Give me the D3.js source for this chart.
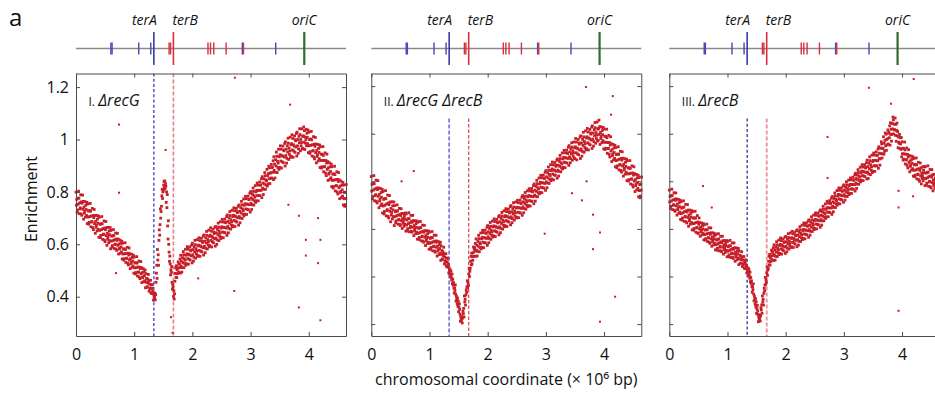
<!DOCTYPE html>
<html><head><meta charset="utf-8">
<script src="https://cdn.jsdelivr.net/npm/d3@7"></script>
<style>
body{margin:0;background:#fff;}
svg{display:block;font-family:"Open Sans",sans-serif;}
</style>
</head><body>
<svg id="chart" width="935" height="396"></svg>
<script>
// ---------------- DATA ----------------
const genomeLengthMb = 4.64;
// chromosomal coordinate of each probe (x 10^6 bp), 6.25 kb spacing
const coordMb = d3.range(744).map(i => +(i * 0.00625).toFixed(5));
// enrichment, in thousandths, one value per probe
const enrichRecG = [
799,749,772,722, 731,776,753,803, 776,717,758,735, 739,789,716,762,
711,757,788,734, 764,696,742,719, 726,763,704,749, 733,710,760,679,
754,704,727,677, 684,729,706,756, 726,667,708,685, 687,737,664,710,
656,702,733,679, 710,642,688,665, 673,710,651,696, 681,658,708,627,
703,653,676,626, 634,679,656,706, 678,619,660,637, 639,689,616,662,
610,656,687,633, 664,596,642,619, 628,665,606,651, 637,614,664,583,
653,612,631,589, 595,633,614,656, 633,584,618,599, 601,643,582,620,
577,615,642,596, 620,563,601,582, 585,616,566,604, 590,571,612,544,
604,563,582,540, 545,583,564,606, 580,531,565,546, 547,589,528,566,
521,559,586,540, 564,507,545,526, 531,562,512,550, 536,517,558,490,
551,510,529,487, 492,530,511,553, 528,479,513,494, 494,536,475,513,
469,507,534,488, 511,454,492,473, 476,507,457,495, 480,461,502,434,
488,455,470,437, 437,467,452,485, 460,421,448,433, 430,463,415,445,
412,432,446,422, 417,387,407,397, 398,414,388,408, 455,490,520,470,
580,540,560,520, 615,655,635,675, 735,700,725,745, 785,810,775,800,
806,826,840,816, 842,812,832,822, 760,800,740,790, 670,620,690,600,
570,535,555,525, 483,503,493,515, 455,429,447,437, 401,423,391,411,
459,489,510,474, 518,473,503,488, 509,533,494,524, 526,511,544,490,
558,517,536,494, 511,549,530,572, 560,511,545,526, 539,581,520,558,
526,564,591,545, 581,524,562,543, 559,590,540,578, 575,556,597,529,
604,560,580,536, 551,591,571,615, 599,547,583,563, 574,618,554,594,
557,597,625,577, 614,554,594,574, 591,623,571,611, 607,587,631,559,
636,592,612,568, 585,625,605,649, 634,582,618,598, 610,654,590,630,
595,635,663,615, 650,590,630,610, 626,658,606,646, 641,621,665,593,
668,624,644,600, 617,657,637,681, 666,614,650,630, 642,686,622,662,
627,667,695,647, 685,625,665,645, 664,696,644,684, 682,662,706,634,
712,668,688,644, 661,701,681,725, 710,658,694,674, 686,730,666,706,
671,711,739,691, 728,668,708,688, 705,737,685,725, 721,701,745,673,
750,706,726,682, 700,740,720,764, 751,699,735,715, 729,773,709,749,
715,755,783,735, 774,714,754,734, 752,784,732,772, 771,751,795,723,
801,757,777,733, 751,791,771,815, 802,750,786,766, 780,824,760,800,
766,806,834,786, 826,766,806,786, 806,838,786,826, 826,806,850,778,
858,814,834,790, 810,850,830,874, 862,810,846,826, 842,886,822,862,
830,870,898,850, 892,832,872,852, 873,905,853,893, 895,875,919,847,
934,882,906,853, 875,923,899,952, 936,874,917,893, 910,963,886,934,
894,942,976,918, 963,891,939,915, 936,975,912,960, 957,933,985,899,
991,939,963,910, 928,976,952,1005, 986,924,967,943, 956,1009,932,980,
936,984,1018,960, 1004,932,980,956, 975,1014,951,999, 995,971,1023,937,
1028,976,1000,947, 964,1012,988,1041, 1019,957,1000,976, 988,1041,964,1012,
966,1014,1048,990, 1034,962,1010,986, 1000,1039,976,1024, 1008,984,1036,950,
1028,976,1000,947, 954,1002,978,1031, 999,937,980,956, 958,1011,934,982,
926,974,1008,950, 983,911,959,935, 942,981,918,966, 951,927,979,893,
972,920,944,891, 896,944,920,973, 939,877,920,896, 896,949,872,920,
862,910,944,886, 916,844,892,868, 872,911,848,896, 878,854,906,820,
896,844,868,815, 821,869,845,898, 866,804,847,823, 824,877,800,848,
792,840,874,816, 846,774,822,798, 802,841,778,826, 808,784,836,750,
826,774,798,745, 751,799,775,828
];
const enrichRecGRecB = [
820,759,787,726, 736,791,763,824, 790,718,768,740, 744,805,716,772,
709,765,803,737, 772,689,745,717, 725,770,698,753, 733,705,766,667,
757,696,724,663, 673,728,700,761, 727,655,705,677, 681,742,653,709,
646,702,740,674, 713,630,686,658, 669,714,642,697, 680,652,713,614,
698,651,672,626, 634,676,655,701, 675,620,658,637, 640,686,619,661,
614,656,685,635, 665,602,644,623, 632,665,611,653, 641,620,667,591,
663,616,637,591, 601,643,622,668, 643,588,626,605, 611,657,590,632,
586,628,657,607, 635,572,614,593, 601,634,580,622, 607,586,633,557,
628,581,602,556, 564,606,585,631, 605,550,588,567, 570,616,549,591,
544,586,615,565, 593,530,572,551, 559,592,538,580, 565,544,591,515,
586,539,560,514, 522,564,543,589, 563,508,546,525, 528,574,507,549,
502,544,573,523, 549,486,528,507, 513,546,492,534, 518,497,544,468,
529,493,509,474, 472,504,488,523, 495,453,482,466, 461,496,445,477,
440,462,477,451, 448,415,437,426, 411,428,400,422, 396,385,410,370,
389,364,375,351, 330,352,341,365, 326,297,317,306, 286,310,275,297,
252,272,286,262, 242,212,232,222, 215,231,205,225, 254,244,266,230,
318,293,304,280, 322,344,333,357, 382,353,373,362, 411,435,400,422,
434,464,485,449, 498,453,483,468, 500,524,485,515, 521,506,539,485,
558,511,532,486, 506,548,527,573, 559,504,542,521, 537,583,516,558,
523,565,594,544, 584,521,563,542, 562,595,541,583, 581,560,607,531,
614,567,588,542, 560,602,581,627, 611,556,594,573, 587,633,566,608,
571,613,642,592, 631,568,610,589, 607,640,586,628, 625,604,651,575,
656,609,630,584, 602,644,623,669, 654,599,637,616, 630,676,609,651,
614,656,685,635, 673,610,652,631, 650,683,629,671, 667,646,693,617,
698,651,672,626, 643,685,664,710, 692,637,675,654, 667,713,646,688,
649,691,720,670, 710,647,689,668, 688,721,667,709, 707,686,733,657,
740,693,714,668, 686,728,707,753, 738,683,721,700, 714,760,693,735,
698,740,769,719, 759,696,738,717, 737,770,716,758, 756,735,782,706,
789,742,763,717, 737,779,758,804, 790,735,773,752, 768,814,747,789,
754,796,825,775, 815,752,794,773, 793,826,772,814, 812,791,838,762,
845,798,819,773, 793,835,814,860, 846,791,829,808, 824,870,803,845,
810,852,881,831, 869,806,848,827, 846,879,825,867, 863,842,889,813,
894,847,868,822, 842,884,863,909, 895,840,878,857, 873,919,852,894,
859,901,930,880, 920,857,899,878, 898,931,877,919, 917,896,943,867,
950,903,924,878, 895,937,916,962, 944,889,927,906, 919,965,898,940,
895,945,980,920, 965,890,940,915, 936,976,911,961, 956,931,986,896,
991,936,961,906, 926,976,951,1006, 987,922,967,942, 957,1012,932,982,
937,987,1022,962, 1007,932,982,957, 978,1018,953,1003, 998,973,1028,938,
1033,978,1003,948, 967,1017,992,1047, 1025,960,1005,980, 994,1049,969,1019,
972,1022,1057,997, 1030,955,1005,980, 988,1028,963,1013, 996,971,1026,936,
1019,964,989,934, 939,989,964,1019, 983,918,963,938, 938,993,913,963,
902,952,987,927, 958,883,933,908, 915,955,890,940, 921,896,951,861,
942,887,912,857, 865,915,890,945, 913,848,893,868, 871,926,846,896,
839,889,924,864, 897,822,872,847, 855,895,830,880, 863,838,893,803,
886,831,856,801, 807,857,832,887, 854,789,834,809, 810,865,785,835,
776,826,861,801, 832,757,807,782, 789,829,764,814, 795,770,825,735,
816,761,786,731, 738,788,763,818
];
const enrichRecB = [
763,713,736,686, 695,740,717,767, 740,681,722,699, 702,752,679,725,
674,720,751,697, 726,658,704,681, 687,724,665,710, 694,671,721,640,
714,664,687,637, 646,691,668,718, 691,632,673,650, 653,703,630,676,
625,671,702,648, 679,611,657,634, 642,679,620,665, 650,627,677,596,
672,622,645,595, 602,647,624,674, 645,586,627,604, 606,656,583,629,
581,619,646,600, 626,569,607,588, 594,625,575,613, 600,581,622,554,
617,576,595,553, 559,597,578,620, 596,547,581,562, 563,605,544,582,
539,577,604,558, 584,527,565,546, 552,583,533,571, 558,539,580,512,
575,534,553,511, 519,557,538,580, 557,508,542,523, 527,569,508,546,
504,542,569,523, 551,494,532,513, 520,551,501,539, 529,510,551,483,
547,506,525,483, 491,529,510,552, 529,480,514,495, 499,541,480,518,
476,514,541,495, 521,464,502,483, 489,520,470,508, 496,477,518,450,
507,474,489,456, 456,486,471,504, 481,442,469,454, 451,484,436,466,
433,455,470,444, 448,415,437,426, 418,435,407,429, 404,393,418,378,
396,371,382,358, 334,356,345,369, 326,297,317,306, 283,307,272,294,
245,265,279,255, 240,210,230,220, 223,239,213,233, 269,259,281,245,
318,293,304,280, 329,351,340,364, 396,367,387,376, 416,440,405,427,
434,464,485,449, 493,448,478,463, 487,511,472,502, 503,488,521,467,
533,492,511,469, 485,523,504,546, 533,484,518,499, 511,553,492,530,
497,535,562,516, 551,494,532,513, 527,558,508,546, 543,524,565,497,
568,527,546,504, 519,557,538,580, 564,515,549,530, 541,583,522,560,
525,563,590,544, 579,522,560,541, 555,586,536,574, 571,552,593,525,
596,555,574,532, 548,586,567,609, 596,547,581,562, 574,616,555,593,
560,598,625,579, 615,558,596,577, 594,625,575,613, 611,592,633,565,
638,597,616,574, 590,628,609,651, 638,589,623,604, 616,658,597,635,
602,640,667,621, 657,600,638,619, 636,667,617,655, 653,634,675,607,
680,639,658,616, 634,672,653,695, 683,634,668,649, 663,705,644,682,
651,689,716,670, 708,651,689,670, 688,719,669,707, 707,688,729,661,
736,695,714,672, 690,728,709,751, 739,690,724,705, 719,761,700,738,
707,745,772,726, 762,705,743,724, 741,772,722,760, 758,739,780,712,
785,744,763,721, 737,775,756,798, 785,736,770,751, 763,805,744,782,
749,787,814,768, 806,749,787,768, 786,817,767,805, 805,786,827,759,
834,793,812,770, 788,826,807,849, 837,788,822,803, 817,859,798,836,
805,843,870,824, 860,803,841,822, 839,870,820,858, 856,837,878,810,
889,839,862,812, 831,876,853,903, 887,828,869,846, 860,910,837,883,
842,888,919,865, 910,842,888,865, 887,924,865,910, 909,886,936,855,
945,895,918,868, 894,939,916,966, 957,898,939,916, 937,987,914,960,
926,972,1003,949, 998,930,976,953, 979,1016,957,1002, 1006,983,1033,952,
1046,996,1019,969, 998,1043,1020,1070, 1058,999,1040,1017, 1016,1066,993,1039,
968,1014,1045,991, 1009,941,987,964, 960,997,938,983, 957,934,984,903,
966,916,939,889, 893,938,915,965, 932,873,914,891, 890,940,867,913,
856,902,933,879, 908,840,886,863, 869,906,847,892, 876,853,903,822,
896,846,869,819, 826,871,848,898, 869,810,851,828, 830,880,807,853,
800,846,877,823, 857,789,835,812, 824,861,802,847, 836,813,863,782,
861,811,834,784, 793,838,815,865, 838,779,820,797, 800,850,777,823,
772,818,849,795, 828,760,806,783, 792,829,770,815, 803,780,830,749,
826,776,799,749, 760,805,782,832
];
// isolated outlier points (Mb, enrichment)
const outlierMbRecG = [0.739,1.54,2.73,0.739,0.687,2.10,2.72,1.632,3.83,4.20,4.16,3.95,3.95,4.20,3.83,4.16,3.65,3.68,1.66];
const outlierRecG   = [1.057,0.96,1.236,0.797,0.49,0.47,0.422,0.322,0.359,0.31,0.528,0.557,0.617,0.617,0.709,0.70,0.751,1.133,0.262];
const outlierMbRecGRecB = [3.69,4.15,4.12,0.73,3.81,3.93,3.81,4.19,3.93,0.52,2.98,3.45,3.62,3.70];
const outlierRecGRecB   = [1.196,1.158,1.08,0.843,0.66,0.585,0.515,0.315,0.21,0.80,0.58,0.75,0.72,0.80];
const outlierMbRecB = [3.43,4.20,3.81,2.72,2.72,0.58,3.94,3.94,3.94,4.19,0.73];
const outlierRecB   = [1.193,1.23,1.126,0.986,0.814,0.78,0.76,0.69,0.256,0.737,0.69];

const panelNumerals = ["I.", "II.", "III."];
const panelStrains = ["ΔrecG", "ΔrecG ΔrecB", "ΔrecB"];
const xTicks = [0, 1, 2, 3, 4];
const yTicksLabelled = [0.4, 0.6, 0.8, 1, 1.2];
const yTicksUnlabelled = [0.2, 0.4, 0.6, 0.8, 1, 1.2];
const yDomainLabelled = [0.25, 1.252];
const yDomainUnlabelled = [0.15, 1.253];

// chromosome map
const siteNames = ["terA", "terB", "oriC"];
const siteMb = [1.338, 1.674, 3.923];
const blueTerMb = [0.600, 0.620, 1.078, 1.285, 2.858, 3.432];
const redTerMb = [1.600, 1.625, 2.268, 2.312, 2.368, 2.580, 2.878];

// ---------------- LAYOUT / STYLE ----------------
const svg = d3.select("#chart");
const panelLeft = [76, 371.3, 669.3];
const panelW = 270, plotTop = 73.5, plotBottom = 336;
const trackY = 48.5;
const dotColor = "#c61f29";
const frameColor = "#4a4a4a";
const siteColors = {terA: "#3a3aa8", terB: "#d8303a", oriC: "#2f6b2f"};
const dashStyles = [
  {a: {c: "#2b2bc0", w: 1.2, d: "3,2.2", top: plotTop}, b: {c: "#e58088", w: 1.6, d: "4,2", top: plotTop}},
  {a: {c: "#7c7cd6", w: 1.8, d: "4,2", top: 118.5}, b: {c: "#d8404a", w: 1.2, d: "3.5,2", top: 118.5}},
  {a: {c: "#25257a", w: 1.2, d: "3,2.2", top: 118.5}, b: {c: "#eb9096", w: 1.8, d: "4,2", top: 118.5}}
];
const panelData = [
  {vals: enrichRecG, oMb: outlierMbRecG, oV: outlierRecG},
  {vals: enrichRecGRecB, oMb: outlierMbRecGRecB, oV: outlierRecGRecB},
  {vals: enrichRecB, oMb: outlierMbRecB, oV: outlierRecB}
];

// panel letter
svg.append("text").attr("x", 9).attr("y", 26).attr("font-size", 24).attr("fill", "#111").text("a");

panelData.forEach((pd, p) => {
  const left = panelLeft[p];
  const x = d3.scaleLinear([0, genomeLengthMb], [left, left + panelW]);
  const y = d3.scaleLinear(p === 0 ? yDomainLabelled : yDomainUnlabelled, [plotBottom, plotTop]);
  const g = svg.append("g");

  // --- chromosome track ---
  const tr = g.append("g");
  tr.append("line").attr("x1", x(0)).attr("x2", x(genomeLengthMb)).attr("y1", trackY).attr("y2", trackY)
    .attr("stroke", "#8a8a8a").attr("stroke-width", 1.3);
  tr.selectAll("line.blue").data(blueTerMb).join("line").attr("class", "blue")
    .attr("x1", d => x(d)).attr("x2", d => x(d)).attr("y1", trackY - 6).attr("y2", trackY + 6)
    .attr("stroke", "#4646b8").attr("stroke-width", 1.4);
  tr.selectAll("line.red").data(redTerMb).join("line").attr("class", "red")
    .attr("x1", d => x(d)).attr("x2", d => x(d)).attr("y1", trackY - 6).attr("y2", trackY + 6)
    .attr("stroke", "#d8303a").attr("stroke-width", 1.4);
  tr.selectAll("line.site").data(siteNames).join("line").attr("class", "site")
    .attr("x1", (d, i) => x(siteMb[i])).attr("x2", (d, i) => x(siteMb[i]))
    .attr("y1", trackY - 16.5).attr("y2", trackY + 16.5)
    .attr("stroke", d => siteColors[d]).attr("stroke-width", d => d === "oriC" ? 2.2 : 1.6);
  tr.selectAll("text.site").data(siteNames).join("text").attr("class", "site")
    .attr("x", (d, i) => x(siteMb[i]) + (d === "terA" ? 3 : d === "terB" ? -1 : 0))
    .attr("y", 25)
    .attr("text-anchor", d => d === "terA" ? "end" : d === "terB" ? "start" : "middle")
    .attr("font-size", 14).attr("font-style", "italic").attr("fill", "#111").text(d => d);

  // --- dashed ter lines ---
  const ds = dashStyles[p];
  [["a", 0], ["b", 1]].forEach(([k, i]) => {
    g.append("line").attr("x1", x(siteMb[i])).attr("x2", x(siteMb[i]))
      .attr("y1", ds[k].top).attr("y2", plotBottom)
      .attr("stroke", ds[k].c).attr("stroke-width", ds[k].w).attr("stroke-dasharray", ds[k].d);
  });

  // --- scatter points: dense band, then isolated outliers ---
  const band = pd.vals.map((v, i) => ({mb: coordMb[i], e: v / 1000}));
  const outs = pd.oMb.map((m, i) => ({mb: m, e: pd.oV[i]}));
  const sb = 2.8, so = 2.0;
  const pg = g.append("g").attr("fill", dotColor);
  pg.selectAll("rect.band").data(band).join("rect").attr("class", "band")
    .attr("x", d => x(d.mb) - sb / 2).attr("y", d => y(d.e) - sb / 2)
    .attr("width", sb).attr("height", sb);
  pg.selectAll("rect.out").data(outs).join("rect").attr("class", "out")
    .attr("x", d => x(d.mb) - so / 2).attr("y", d => y(d.e) - so / 2)
    .attr("width", so).attr("height", so);

  // --- axes (frame with inward ticks) ---
  const yTicks = p === 0 ? yTicksLabelled : yTicksUnlabelled;
  const styleAxis = sel => {
    sel.selectAll(".domain").attr("stroke", frameColor).attr("stroke-width", 1);
    sel.selectAll(".tick line").attr("stroke", frameColor).attr("stroke-width", 1);
    sel.selectAll("text").attr("font-size", 16).attr("fill", "#111").attr("font-family", "Open Sans, sans-serif");
  };
  g.append("g").attr("transform", `translate(0,${plotBottom})`)
    .call(d3.axisBottom(x).tickValues(xTicks).tickSize(-4).tickSizeOuter(0).tickPadding(12.5).tickFormat(d3.format("d")))
    .call(styleAxis);
  g.append("g").attr("transform", `translate(0,${plotTop})`)
    .call(d3.axisTop(x).tickValues(xTicks).tickSize(-4).tickSizeOuter(0).tickFormat(""))
    .call(styleAxis);
  g.append("g").attr("transform", `translate(${left},0)`)
    .call(d3.axisLeft(y).tickValues(yTicks).tickSize(-4).tickSizeOuter(0).tickPadding(7)
      .tickFormat(p === 0 ? (d => String(+d.toFixed(1))) : ""))
    .call(styleAxis);
  g.append("g").attr("transform", `translate(${left + panelW},0)`)
    .call(d3.axisRight(y).tickValues(yTicks).tickSize(-4).tickSizeOuter(0).tickFormat(""))
    .call(styleAxis);

  // --- panel title ---
  const t = g.append("text").attr("x", left + 12.5).attr("y", 106).attr("fill", "#111");
  t.append("tspan").attr("font-size", 12).text(panelNumerals[p] + " ");
  t.append("tspan").attr("font-size", 16).attr("font-style", "italic").text(panelStrains[p]);
});

// axis titles
svg.append("text").attr("x", 506.3).attr("y", 385).attr("text-anchor", "middle")
  .attr("font-size", 16).attr("fill", "#111")
  .text("chromosomal coordinate (× 10⁶ bp)");
svg.append("text").attr("transform", "translate(37,199) rotate(-90)").attr("text-anchor", "middle")
  .attr("font-size", 16).attr("fill", "#111").text("Enrichment");
</script>
</body></html>
